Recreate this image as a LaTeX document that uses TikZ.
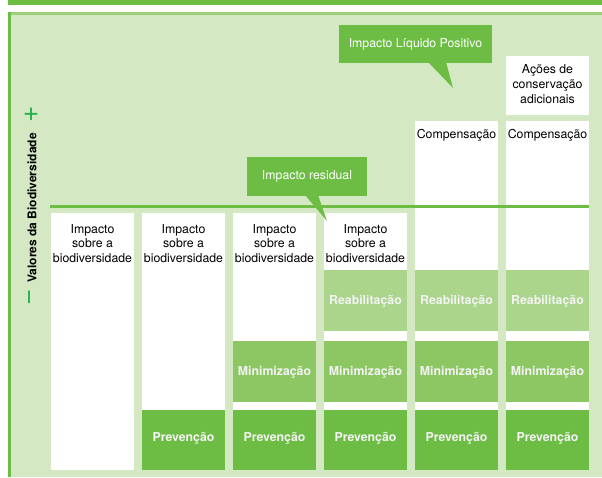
\documentclass[tikz,border=0pt]{standalone}
\usepackage{fontspec}
\setmainfont{TeX Gyre Heros}
\usepackage{tikz}
\definecolor{verdeEscuro}{HTML}{6DBD45}
\definecolor{verdeMedio}{HTML}{8DC764}
\definecolor{verdeClaro}{HTML}{AAD58B}
\definecolor{fundoVerde}{HTML}{D4E8C4}
\definecolor{bordaVerde}{HTML}{9ED07C}
\definecolor{sinalVerde}{HTML}{22B14C}
\definecolor{textoClaro}{HTML}{F3F3F3}

\begin{document}
\begin{tikzpicture}[x=1pt,y=-1pt,
  texto/.style={font=\fontsize{12.3}{14.7}\selectfont,align=center,inner sep=0pt},
  sinal/.style={texto,rotate=90,text=sinalVerde,font=\fontsize{28}{28}\selectfont},
  bloco/.style={texto,minimum width=83pt,minimum height=61pt,text=textoClaro,
    font=\fontsize{12.3}{14.7}\selectfont\bfseries,text height=7pt,text depth=0pt},
  balao/.style={texto,fill=verdeEscuro,text=white,minimum height=38pt,text height=7pt,text depth=1pt}]
\fill[white] (0,0) rectangle (602,477);
\useasboundingbox (0,0) rectangle (602,477);
\fill[verdeEscuro] (8,0) rectangle (602,5);
\fill[fundoVerde] (8,12) rectangle (602,477);
\fill[bordaVerde] (8,12) rectangle (602,14.5);
\fill[verdeEscuro] (8,12) rectangle (10.5,477);

\node[texto,rotate=90,font=\fontsize{12}{14}\selectfont\bfseries] (eixo) at (32,208) {Valores da Biodiversidade};
\node[sinal] (mais) at (32,114) {+};
\node[sinal] (menos) at (32.5,297.5) {−};

\foreach \i in {1,...,4} {
  \fill[white] ({51+91*(\i-1)},213) rectangle +(83,257);
  \node[texto,anchor=north] (impacto\i) at ({92.5+91*(\i-1)},224) {Impacto\\sobre a\\biodiversidade};
}
\fill[white] (415,121) rectangle (498,470);
\fill[white] (506,121) rectangle (589,470);
\fill[white] (506,56) rectangle (589,115);
\node[texto,anchor=base] (comp5) at (456.5,138.5) {Compensação};
\node[texto,anchor=base] (comp6) at (547.5,138.5) {Compensação};
\node[texto,anchor=north] (acoes) at (547.5,64.5) {Ações de\\conservação\\adicionais};

\draw[verdeEscuro,line width=2.7pt] (50,206.5) -- (589,206.5);

\foreach \i in {2,...,6}
  \node[bloco,fill=verdeEscuro,minimum height=60pt,text depth=4.5pt] (prev\i) at ({92.5+91*(\i-1)},440) {Prevenção};
\foreach \i in {3,...,6}
  \node[bloco,fill=verdeMedio] (min\i) at ({92.5+91*(\i-1)},371.5) {Minimização};
\foreach \i in {4,...,6}
  \node[bloco,fill=verdeClaro] (reab\i) at ({92.5+91*(\i-1)},300.5) {Reabilitação};

\node[balao,minimum width=153pt] (liquido) at (415.5,44) {Impacto Líquido Positivo};
\fill[verdeEscuro] (428,62) -- (453,88) -- (446,62) -- cycle;
\node[balao,minimum width=120pt,minimum height=39pt] (residual) at (307,176.5) {Impacto residual};
\fill[verdeEscuro] (305,195) -- (327,221) -- (318,195) -- cycle;
\end{tikzpicture}
\end{document}
